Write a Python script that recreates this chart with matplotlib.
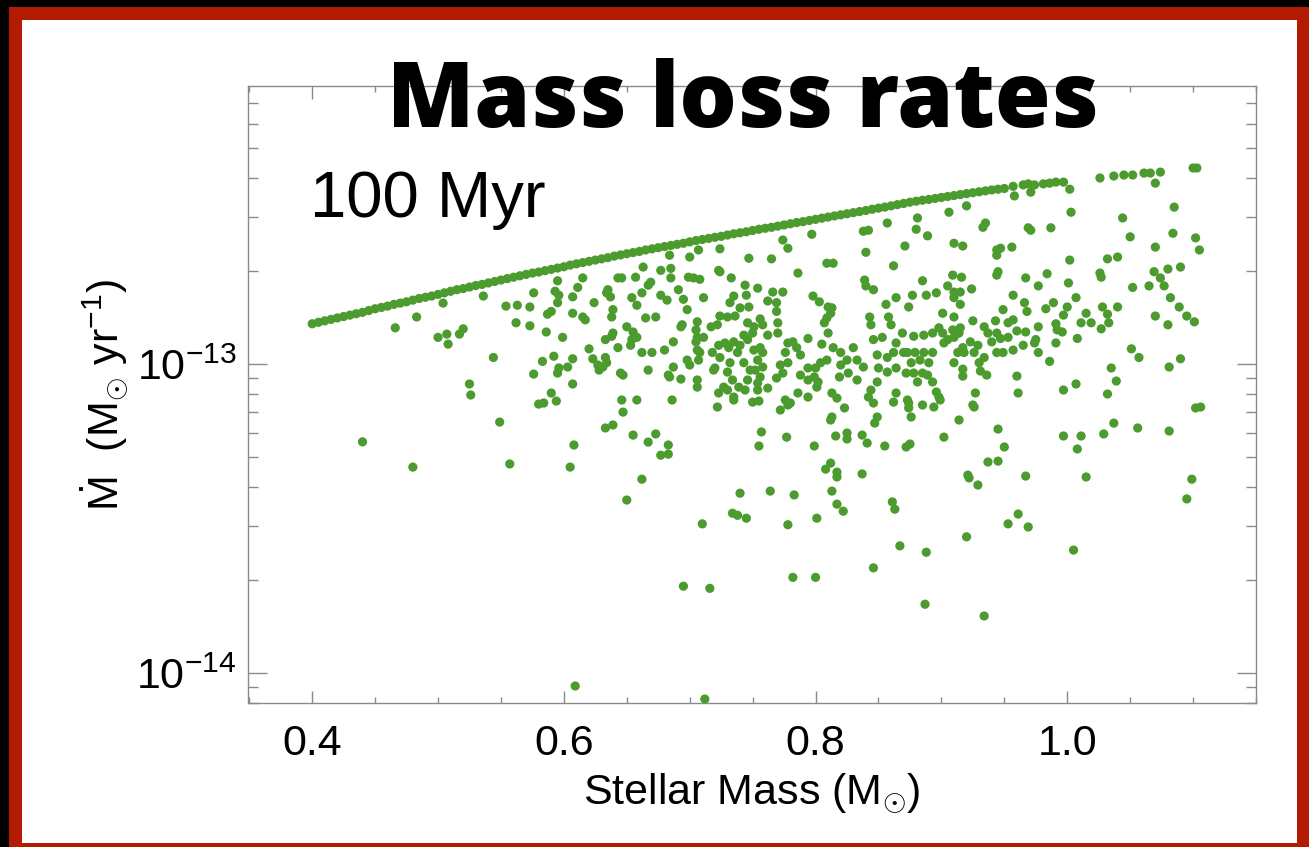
import numpy as np
import matplotlib.pyplot as plt
from matplotlib.patches import Rectangle
from matplotlib.ticker import MultipleLocator, NullFormatter

plt.rcParams['font.family'] = 'Liberation Sans'
plt.rcParams['mathtext.fontset'] = 'custom'
plt.rcParams['mathtext.rm'] = 'Liberation Sans'
plt.rcParams['mathtext.it'] = 'Liberation Sans:italic'
plt.rcParams['mathtext.bf'] = 'Liberation Sans:bold'

# saturated stars sitting on the upper envelope (mass in Msun, rate in 1e-13 Msun/yr)
band_mass = [0.400, 0.405, 0.410, 0.415, 0.420, 0.425, 0.430, 0.435, 0.440, 0.445,
             0.450, 0.455, 0.460, 0.465, 0.470, 0.475, 0.480, 0.485, 0.490, 0.495,
             0.500, 0.505, 0.510, 0.515, 0.520, 0.525, 0.530, 0.535, 0.540, 0.545,
             0.550, 0.555, 0.560, 0.565, 0.570, 0.575, 0.580, 0.585, 0.590, 0.595,
             0.600, 0.605, 0.610, 0.615, 0.620, 0.625, 0.630, 0.635, 0.640, 0.645,
             0.650, 0.655, 0.660, 0.665, 0.670, 0.675, 0.680, 0.685, 0.690, 0.695,
             0.700, 0.705, 0.710, 0.715, 0.720, 0.725, 0.730, 0.735, 0.740, 0.745,
             0.750, 0.755, 0.760, 0.765, 0.770, 0.775, 0.780, 0.785, 0.790, 0.795,
             0.800, 0.805, 0.810, 0.815, 0.820, 0.825, 0.830, 0.835, 0.840, 0.845,
             0.850, 0.855, 0.860, 0.865, 0.870, 0.875, 0.880, 0.885, 0.890, 0.895,
             0.900, 0.905, 0.910, 0.915, 0.920, 0.925, 0.930, 0.935, 0.940, 0.945,
             0.950]
band_mdot = [1.35, 1.365, 1.38, 1.395, 1.41, 1.425, 1.44, 1.455, 1.47, 1.49,
             1.51, 1.525, 1.54, 1.56, 1.575, 1.59, 1.61, 1.63, 1.645, 1.66,
             1.68, 1.70, 1.72, 1.74, 1.755, 1.775, 1.795, 1.81, 1.83, 1.85,
             1.87, 1.89, 1.91, 1.93, 1.95, 1.97, 1.985, 2.005, 2.025, 2.045,
             2.065, 2.09, 2.11, 2.13, 2.15, 2.17, 2.19, 2.21, 2.235, 2.255,
             2.275, 2.295, 2.315, 2.34, 2.36, 2.38, 2.40, 2.42, 2.44, 2.46,
             2.485, 2.51, 2.53, 2.55, 2.57, 2.59, 2.615, 2.64, 2.66, 2.68,
             2.705, 2.73, 2.75, 2.77, 2.795, 2.82, 2.845, 2.87, 2.89, 2.915,
             2.94, 2.965, 2.99, 3.015, 3.04, 3.065, 3.09, 3.115, 3.14, 3.17,
             3.195, 3.22, 3.25, 3.28, 3.31, 3.34, 3.365, 3.39, 3.41, 3.435,
             3.46, 3.485, 3.51, 3.535, 3.56, 3.585, 3.61, 3.635, 3.66, 3.68,
             3.70]

# the rest of the cluster
star_mass = [
    # 0.45 - 0.64
    0.466, 0.483, 0.504, 0.536, 0.500, 0.507, 0.508, 0.517, 0.520, 0.544,
    0.525, 0.526, 0.549, 0.554, 0.563, 0.573, 0.576, 0.562, 0.573, 0.586,
    0.587, 0.590, 0.595, 0.593, 0.596, 0.595, 0.599, 0.607, 0.611, 0.615,
    0.607, 0.615, 0.617, 0.624, 0.634, 0.633, 0.620, 0.623, 0.627, 0.628,
    0.607, 0.603, 0.596, 0.595, 0.592, 0.583, 0.576, 0.607, 0.590, 0.594,
    0.580, 0.584, 0.633, 0.440, 0.480, 0.557, 0.608, 0.605, 0.609,
    # 0.63 - 0.88
    0.774, 0.778, 0.797, 0.838, 0.842, 0.857, 0.840, 0.871, 0.862, 0.809,
    0.814, 0.786, 0.765, 0.747, 0.724, 0.707, 0.700, 0.684, 0.663, 0.724,
    0.733, 0.744, 0.754, 0.745, 0.732, 0.735, 0.740, 0.747, 0.766, 0.774,
    0.762, 0.769, 0.769, 0.798, 0.803, 0.810, 0.813, 0.812, 0.809, 0.807,
    0.810, 0.794, 0.805, 0.839, 0.840, 0.846, 0.856, 0.864, 0.843, 0.844,
    0.858, 0.860, 0.853, 0.846, 0.864, 0.869, 0.874, 0.849, 0.857, 0.862,
    0.870, 0.850, 0.857, 0.864, 0.872, 0.849, 0.844, 0.842, 0.846, 0.849,
    0.847, 0.862, 0.864, 0.874, 0.830, 0.833, 0.838, 0.833, 0.825, 0.820,
    0.814, 0.820, 0.826, 0.819, 0.813, 0.817, 0.823, 0.813, 0.812, 0.809,
    0.804, 0.800, 0.794, 0.799, 0.794, 0.802, 0.794, 0.801, 0.788, 0.785,
    0.782, 0.778, 0.776, 0.778, 0.772, 0.774, 0.769, 0.788, 0.786, 0.776,
    0.778, 0.772, 0.780, 0.756, 0.758, 0.751, 0.754, 0.758, 0.752, 0.756,
    0.754, 0.746, 0.762, 0.754, 0.744, 0.739, 0.748, 0.743, 0.738, 0.732,
    0.730, 0.734, 0.727, 0.723, 0.730, 0.735, 0.735, 0.722, 0.750, 0.755,
    0.720, 0.719, 0.718, 0.724, 0.723, 0.728, 0.735, 0.731, 0.740, 0.746,
    0.750, 0.743, 0.751, 0.746, 0.756, 0.758, 0.762, 0.770, 0.770, 0.724,
    0.730, 0.736, 0.722, 0.717, 0.706, 0.705, 0.706, 0.711, 0.705, 0.706,
    0.708, 0.707, 0.698, 0.700, 0.693, 0.694, 0.687, 0.680, 0.687, 0.683,
    0.684, 0.693, 0.706, 0.706, 0.686, 0.670, 0.662, 0.667, 0.653, 0.654,
    0.655, 0.650, 0.658, 0.639, 0.638, 0.643, 0.633, 0.634, 0.631, 0.645,
    0.647, 0.646, 0.647, 0.639, 0.638, 0.639, 0.637, 0.635, 0.643, 0.646,
    0.657, 0.658, 0.654, 0.662, 0.667, 0.669, 0.677, 0.685, 0.685, 0.677,
    0.682, 0.698, 0.695, 0.673, 0.665, 0.699, 0.703, 0.708, 0.711, 0.723,
    0.691, 0.658,
    # 0.87 - 1.11
    0.958, 0.971, 0.957, 0.965, 0.969, 0.974, 0.981, 0.986, 0.991, 0.997,
    1.002, 1.026, 1.037, 1.045, 1.052, 1.061, 1.066, 1.074, 1.070, 1.100,
    1.103, 1.085, 1.044, 1.050, 1.070, 1.084, 1.102, 1.105, 1.003, 0.906,
    0.920, 0.881, 0.880, 0.889, 0.910, 0.917, 0.933, 0.935, 0.969, 0.971,
    0.987, 0.944, 0.947, 0.944, 0.956, 1.002, 1.032, 1.040, 1.026, 1.027,
    1.069, 1.080, 1.090, 1.074, 1.077, 1.065, 1.052, 1.082, 1.089, 1.095,
    1.101, 1.080, 1.070, 1.040, 1.032, 1.033, 1.027, 1.019, 1.015, 1.011,
    1.008, 1.028, 1.000, 0.997, 0.989, 0.983, 1.007, 1.001, 0.984, 0.977,
    0.967, 0.957, 0.966, 0.968, 0.957, 0.953, 0.949, 0.943, 0.944, 0.947,
    0.953, 0.960, 0.967, 0.975, 0.977, 0.991, 0.992, 0.996, 0.991, 0.974,
    0.965, 0.957, 0.949, 0.944, 0.977, 0.986, 0.960, 0.961, 0.997, 1.007,
    1.035, 1.039, 1.032, 1.051, 1.057, 1.081, 1.090, 1.102, 1.106, 1.037,
    1.056, 1.081, 1.029, 1.011, 0.997, 0.945, 0.914, 0.902, 0.927, 0.925,
    0.926, 0.917, 0.917, 0.910, 0.931, 0.936, 0.930, 0.926, 0.934, 0.929,
    0.923, 0.917, 0.918, 0.913, 0.910, 0.905, 0.909, 0.915, 0.914, 0.901,
    0.898, 0.902, 0.893, 0.886, 0.878, 0.873, 0.879, 0.886, 0.893, 0.883,
    0.890, 0.876, 0.878, 0.885, 0.889, 0.881, 0.893, 0.896, 0.898, 0.899,
    0.873, 0.874, 0.885, 0.894, 0.876, 0.925, 0.934, 0.937, 0.940, 0.910,
    0.901, 0.877, 0.888, 0.896, 0.885, 0.905, 0.910, 0.910, 0.915, 0.924,
    0.909, 0.916, 0.915, 0.944, 0.945,
    # low-rate tail
    0.655, 0.667, 0.673, 0.683, 0.677, 0.683, 0.662, 0.650, 0.710, 0.695,
    0.716, 0.712, 0.757, 0.755, 0.777, 0.799, 0.816, 0.825, 0.825, 0.837,
    0.841, 0.855, 0.872, 0.812, 0.808, 0.817, 0.817, 0.837, 0.813, 0.817,
    0.822, 0.740, 0.764, 0.783, 0.734, 0.738, 0.745, 0.778, 0.801, 0.861,
    0.863, 0.867, 0.846, 0.782, 0.800,
    0.875, 0.950, 0.937, 0.945, 0.921, 0.922, 0.929, 0.967, 1.008, 1.015,
    1.099, 1.095, 0.961, 0.953, 0.969, 0.920, 0.888, 1.005, 0.887, 0.934,
]
star_mdot = [
    1.31, 1.42, 1.575, 1.66, 1.22, 1.25, 1.16, 1.25, 1.30, 1.05,
    0.862, 0.794, 0.649, 1.54, 1.55, 1.53, 1.70, 1.36, 1.33, 1.27,
    1.45, 1.48, 1.86, 1.72, 1.67, 1.58, 1.22, 1.65, 1.77, 1.90,
    1.46, 1.42, 1.39, 1.58, 1.70, 1.20, 1.12, 1.04, 0.993, 0.956,
    1.04, 0.978, 0.971, 0.935, 1.06, 1.02, 0.928, 0.862, 0.806, 0.759,
    0.742, 0.748, 0.621, 0.560, 0.464, 0.475, 0.547, 0.464, 0.0908,
    2.52, 2.37, 2.63, 2.69, 2.71, 2.86, 2.30, 2.41, 2.08, 2.12,
    2.12, 1.97, 2.19, 2.20, 2.36, 2.34, 2.22, 2.25, 2.06, 1.99,
    1.90, 1.80, 1.76, 1.67, 1.58, 1.66, 1.52, 1.53, 1.71, 1.71,
    1.60, 1.58, 1.48, 1.66, 1.59, 1.53, 1.52, 1.46, 1.41, 1.36,
    1.26, 1.21, 1.16, 1.87, 1.79, 1.74, 1.56, 1.64, 1.42, 1.34,
    1.42, 1.34, 1.22, 1.20, 1.17, 1.26, 1.53, 1.07, 1.05, 1.09,
    1.09, 0.971, 0.942, 0.971, 0.935, 0.875, 0.824, 0.782, 0.748, 0.674,
    0.644, 0.753, 0.806, 0.748, 1.13, 1.03, 0.978, 0.888, 1.03, 1.09,
    1.13, 0.993, 0.935, 0.908, 0.806, 0.776, 0.721, 0.674, 0.659, 1.03,
    1.01, 0.971, 0.971, 0.908, 0.888, 0.875, 0.782, 0.842, 1.07, 1.13,
    1.18, 1.17, 1.09, 1.01, 0.993, 0.935, 0.901, 0.921, 0.806, 0.765,
    0.737, 0.710, 0.748, 1.13, 1.09, 1.11, 1.03, 0.978, 0.956, 0.908,
    0.868, 0.888, 0.836, 0.824, 0.824, 0.842, 0.956, 1.01, 1.09, 1.01,
    0.942, 0.888, 0.842, 0.806, 0.824, 0.782, 0.765, 0.726, 0.753, 0.759,
    0.971, 0.956, 1.09, 1.05, 1.15, 1.17, 1.18, 1.13, 1.15, 1.20,
    1.26, 1.24, 1.32, 1.36, 1.40, 1.34, 1.24, 1.36, 1.26, 1.43,
    1.42, 1.43, 1.34, 1.32, 1.37, 1.29, 1.22, 1.22, 1.18, 1.11,
    1.09, 1.03, 1.03, 0.993, 1.32, 1.34, 1.18, 1.11, 0.978, 0.921,
    0.908, 0.894, 0.888, 0.842, 0.765, 1.09, 1.09, 0.956, 1.15, 1.20,
    1.27, 1.32, 1.22, 1.26, 1.23, 1.13, 1.05, 1.01, 0.978, 0.935,
    0.921, 0.765, 0.699, 0.635, 1.42, 1.50, 1.65, 1.74, 1.90, 1.90,
    1.91, 1.55, 1.64, 1.70, 1.80, 1.84, 2.01, 2.04, 1.90, 1.67,
    1.61, 1.50, 1.62, 1.42, 1.41, 1.91, 1.90, 1.88, 1.64, 2.01,
    1.74, 0.765,
    3.50, 3.60, 3.76, 3.80, 3.83, 3.80, 3.83, 3.85, 3.88, 3.88,
    3.68, 4.00, 4.06, 4.09, 4.09, 4.15, 4.15, 4.18, 3.85, 4.31,
    4.31, 3.22, 2.97, 2.58, 2.39, 2.65, 2.56, 2.34, 3.10, 3.10,
    3.25, 2.97, 2.73, 2.60, 2.46, 2.41, 2.77, 2.86, 2.76, 2.71,
    2.76, 2.34, 2.37, 2.25, 2.39, 2.17, 2.19, 2.22, 1.97, 1.91,
    1.99, 2.03, 2.06, 1.90, 1.79, 1.79, 1.77, 1.64, 1.53, 1.43,
    1.37, 1.34, 1.43, 1.53, 1.45, 1.36, 1.30, 1.36, 1.46, 1.36,
    1.21, 1.53, 1.53, 1.44, 1.58, 1.51, 1.64, 1.83, 1.96, 1.79,
    1.90, 1.67, 1.58, 1.48, 1.39, 1.36, 1.50, 1.38, 1.26, 1.21,
    1.22, 1.28, 1.27, 1.20, 1.32, 1.35, 1.29, 1.27, 1.17, 1.17,
    1.15, 1.11, 1.09, 1.09, 1.09, 1.02, 0.914, 0.806, 0.824, 0.862,
    0.971, 0.881, 0.800, 1.12, 1.05, 0.978, 1.04, 0.721, 0.726, 0.644,
    0.621, 0.607, 0.594, 0.585, 0.585, 0.616, 0.659, 0.580, 0.806, 0.737,
    0.726, 0.963, 0.914, 1.01, 0.949, 0.921, 1.01, 1.09, 1.05, 1.15,
    1.18, 1.13, 1.09, 1.09, 1.22, 1.20, 1.29, 1.31, 1.26, 1.26,
    1.31, 1.17, 1.26, 1.24, 1.23, 1.09, 1.09, 1.09, 1.09, 1.03,
    1.01, 1.01, 0.935, 0.935, 0.921, 0.875, 0.875, 0.812, 0.782, 0.765,
    0.765, 0.721, 0.737, 0.726, 0.674, 1.38, 1.32, 1.26, 1.18, 1.42,
    1.46, 1.67, 1.67, 1.70, 1.86, 1.79, 1.71, 1.64, 1.71, 1.75,
    1.94, 1.91, 1.56, 1.94, 1.99,
    0.589, 0.559, 0.594, 0.547, 0.507, 0.511, 0.424, 0.363, 0.304, 0.191,
    0.188, 0.0824, 0.603, 0.543, 0.580, 0.543, 0.585, 0.598, 0.572, 0.589,
    0.555, 0.543, 0.539, 0.478, 0.457, 0.447, 0.431, 0.441, 0.388, 0.352,
    0.334, 0.382, 0.388, 0.377, 0.329, 0.324, 0.317, 0.302, 0.317, 0.358,
    0.339, 0.258, 0.219, 0.204, 0.204,
    0.551, 0.539, 0.482, 0.485, 0.437, 0.428, 0.406, 0.434, 0.531, 0.431,
    0.424, 0.366, 0.327, 0.304, 0.297, 0.276, 0.246, 0.250, 0.167, 0.153,
]

x_ticks = [0.4, 0.6, 0.8, 1.0]
y_ticks = [1e-14, 1e-13]
y_ticklabels = [r'$10^{-14}$', r'$10^{-13}$']

W, H = 1309, 847
fig = plt.figure(figsize=(W / 100, H / 100), dpi=100, facecolor='black')

# slide frame: red border on black, white card inside
fig.add_artist(Rectangle((9 / W, 0), 1 - 9 / W, 1 - 7 / H, transform=fig.transFigure,
                         facecolor='#b31c02', edgecolor='none', zorder=0))
fig.add_artist(Rectangle((22 / W, 4 / H), (1297 - 22) / W, (843 - 20) / H,
                         transform=fig.transFigure, facecolor='white',
                         edgecolor='none', zorder=0))

ax = fig.add_axes([248 / W, 1 - 703 / H, (1256 - 248) / W, (703 - 86) / H])
ax.set_facecolor('none')

green = '#4c9b2e'
ax.scatter(band_mass, np.array(band_mdot) * 1e-13, s=44, color=green,
           edgecolors='none', zorder=3)
ax.scatter(star_mass, np.array(star_mdot) * 1e-13, s=44, color=green,
           edgecolors='none', zorder=3)

ax.set_yscale('log')
ax.set_xlim(0.349, 1.150)
ax.set_ylim(8.0e-15, 7.94e-13)

ax.set_xticks(x_ticks)
ax.set_xticklabels([f'{v:.1f}' for v in x_ticks])
ax.xaxis.set_minor_locator(MultipleLocator(0.05))
ax.set_yticks(y_ticks)
ax.set_yticklabels(y_ticklabels)
ax.yaxis.set_minor_formatter(NullFormatter())

gray = '#8a8a8a'
for sp in ax.spines.values():
    sp.set_color(gray)
    sp.set_linewidth(1.0)
ax.tick_params(which='both', direction='in', top=True, right=True, color=gray,
               width=1.0, labelsize=31, labelcolor='black')
ax.tick_params(axis='x', which='major', length=9, pad=15)
ax.tick_params(axis='x', which='minor', length=4.5)
ax.tick_params(axis='y', which='major', length=14, pad=8)
ax.tick_params(axis='y', which='minor', length=7.5)

ax.set_xlabel(r'Stellar Mass (M$_{\odot}$)', fontsize=31, labelpad=5)
fig.text(105 / W, 1 - 395 / H, r'$\dot{\mathrm{M}}$  (M$_{\odot}$ yr$^{-1}$)',
         fontsize=31, rotation=90, ha='center', va='center')

fig.text(310 / W, 1 - 217 / H, '100 Myr', fontsize=47, ha='left', va='baseline')
fig.text(743 / W, 1 - 127 / H, 'Mass loss rates', fontsize=65, fontweight=800,
         family='Open Sans', ha='center', va='baseline', zorder=5)

fig.savefig('out.png', dpi=100, facecolor=fig.get_facecolor())
